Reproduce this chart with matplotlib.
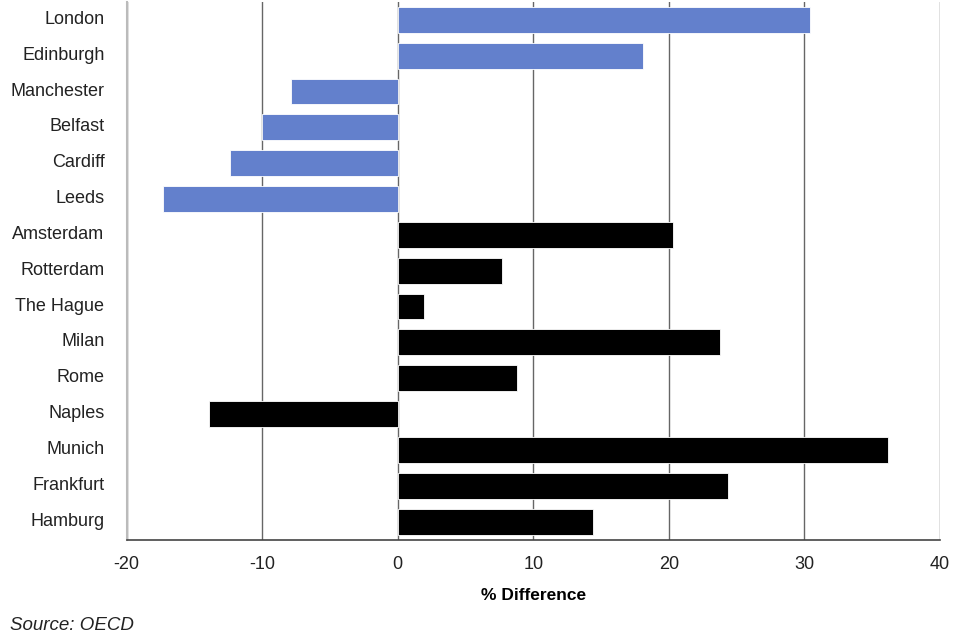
import matplotlib
matplotlib.use("Agg")
import matplotlib.pyplot as plt
import matplotlib.transforms as mtransforms
import numpy as np

plt.rcParams['font.family'] = ['Liberation Sans', 'DejaVu Sans']
plt.rcParams['axes.unicode_minus'] = False

cities = ["London", "Edinburgh", "Manchester", "Belfast", "Cardiff", "Leeds",
          "Amsterdam", "Rotterdam", "The Hague", "Milan", "Rome", "Naples",
          "Munich", "Frankfurt", "Hamburg"]
pct_diff = [30.4, 18.1, -7.9, -10.0, -12.4, -17.3,
            20.3, 7.7, 1.9, 23.8, 8.8, -13.9,
            36.2, 24.4, 14.4]
is_uk = [True] * 6 + [False] * 9

UK_COLOR = '#6380CC'
OTHER_COLOR = '#000000'

fig, ax = plt.subplots(figsize=(9.6, 6.4), dpi=100)
fig.subplots_adjust(left=0.132, right=0.979, top=0.997, bottom=0.157)

y = np.arange(len(cities))
colors = [UK_COLOR if u else OTHER_COLOR for u in is_uk]
ax.barh(y, pct_diff, height=0.72, color=colors, edgecolor='white',
        linewidth=0.6, zorder=3)

ax.set_ylim(len(cities) - 0.5, -0.5)
ax.set_xlim(-20, 40)
ax.set_xticks(np.arange(-20, 41, 10))
ax.set_yticks(y)
ax.set_yticklabels(cities, fontsize=13)
ax.tick_params(axis='x', labelsize=13, length=0, pad=12)
ax.tick_params(axis='y', length=0, pad=16)

# nudge city labels up a touch so they sit like the original
lift = mtransforms.ScaledTranslation(0, 2.5 / 100, fig.dpi_scale_trans)
for lab in ax.get_yticklabels():
    lab.set_transform(lab.get_transform() + lift)
for lab in ax.get_yticklabels() + ax.get_xticklabels():
    lab.set_color('#222222')

ax.grid(axis='x', color='#666666', linewidth=1.0, zorder=0)
ax.set_axisbelow(True)
for side in ['top', 'right']:
    ax.spines[side].set_visible(False)
ax.spines['left'].set_color('#bbbbbb')
ax.spines['left'].set_linewidth(1.5)
ax.spines['bottom'].set_color('#444444')
ax.spines['bottom'].set_linewidth(1.2)

ax.set_xlabel("% Difference", fontsize=12.5, fontweight='bold', labelpad=11)
fig.text(0.01, 0.01, "Source: OECD", fontsize=13.5, style='italic',
         color='#222222', ha='left', va='bottom')

fig.savefig("out.png", dpi=100)
